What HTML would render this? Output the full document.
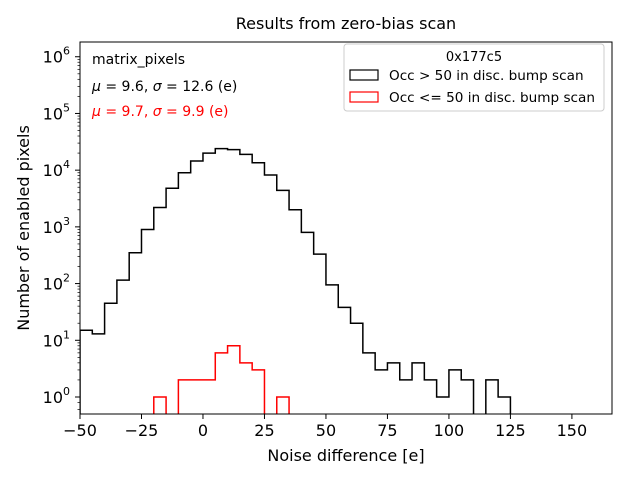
<!DOCTYPE html>
<html><head><meta charset="utf-8"><style>
body{margin:0;background:#fff;font-family:"Liberation Sans","DejaVu Sans",sans-serif}
svg text{font-family:"DejaVu Sans","Liberation Sans",sans-serif}
</style></head><body>
<svg id="c" width="640" height="480" xmlns="http://www.w3.org/2000/svg">
<rect width="640" height="480" fill="#fff"/>
<text x="346" y="29" font-size="16" text-anchor="middle">Results from zero-bias scan</text>
<g id="g"></g>
</svg>
<script>
const binEdgesStart = -50;
const binWidth = 5;
const blackCounts = [15,13,45,115,350,900,2200,4800,9000,14500,20000,24000,23000,19000,13500,8200,4400,2000,800,330,95,38,20,6,3,4,2,4,2,1,3,2,0,2,1];
const redStart = -20;
const redCounts = [1,0,2,2,2,6,8,4,3,0,1];
const xTicks = [-50,-25,0,25,50,75,100,125,150];
const yTickExps = [0,1,2,3,4,5,6];

const L=80,R=612,T=42,B=414;
const xMin=-50,xMax=166.3;
const yLogMin=-0.3,yLogMax=6.26;
const xs=v=>L+(v-xMin)/(xMax-xMin)*(R-L);
const ys=v=>B-(Math.log10(v)-yLogMin)/(yLogMax-yLogMin)*(B-T);
const NS="http://www.w3.org/2000/svg";
const g=document.getElementById('g');
function mk(t,a){const e=document.createElementNS(NS,t);for(const k in a)e.setAttribute(k,a[k]);g.appendChild(e);return e;}

function stepPath(start,counts){
  let d='';const yb=B+2;
  let x0=xs(start);d+=`M${x0},${yb}`;
  counts.forEach((c,i)=>{
    const xa=xs(start+i*binWidth),xb=xs(start+(i+1)*binWidth);
    const y=c>0?ys(c):yb;
    d+=` L${xa},${y} L${xb},${y}`;
  });
  d+=` L${xs(start+counts.length*binWidth)},${yb}`;
  return d;
}
const cp=mk('clipPath',{id:'cl'});
const cr=document.createElementNS(NS,'rect');cr.setAttribute('x',L);cr.setAttribute('y',T);cr.setAttribute('width',R-L);cr.setAttribute('height',B-T);cp.appendChild(cr);
let p=mk('path',{d:stepPath(binEdgesStart,blackCounts),fill:'none',stroke:'#000','stroke-width':1.5,'clip-path':'url(#cl)'});


p=mk('path',{d:stepPath(redStart,redCounts),fill:'none',stroke:'red','stroke-width':1.5,'clip-path':'url(#cl)'});



let fr=mk('rect',{x:L,y:T,width:R-L,height:B-T,fill:'none',stroke:'#000','stroke-width':1});



xTicks.forEach(v=>{
  const x=xs(v);
  mk('line',{x1:x,x2:x,y1:B,y2:B+5,stroke:'#000'});
  const t=mk('text',{x:x,y:B+22,'font-size':16,'text-anchor':'middle'});
  t.textContent=(v<0?'\u2212'+(-v):v);
  
  
});
yTickExps.forEach(e=>{
  const y=ys(Math.pow(10,e));
  mk('line',{x1:L-5,x2:L,y1:y,y2:y,stroke:'#000'});
  for(let m=2;m<10;m++){const v=m*Math.pow(10,e);const yy=ys(v);if(yy>T&&yy<B)mk('line',{x1:L-2.5,x2:L,y1:yy,y2:yy,stroke:'#000','stroke-width':0.7});}
  const t=mk('text',{x:L-10,y:y+6,'font-size':16,'text-anchor':'end'});
  t.innerHTML='10<tspan dy="-8" font-size="11">'+e+'</tspan>';
  
  
});
{const yy=ys(0.6);mk('line',{x1:L-2.5,x2:L,y1:yy,y2:yy,stroke:'#000','stroke-width':0.7});
 const y2=ys(0.8);mk('line',{x1:L-2.5,x2:L,y1:y2,y2:y2,stroke:'#000','stroke-width':0.7});}

let t=mk('text',{x:346,y:461,'font-size':16,'text-anchor':'middle'});t.textContent='Noise difference [e]';


t=mk('text',{x:29,y:228,'font-size':16,'text-anchor':'middle',transform:'rotate(-90 29 228)'});t.textContent='Number of enabled pixels';



t=mk('text',{x:92,y:64,'font-size':14});t.textContent='matrix_pixels';


t=mk('text',{x:92,y:91,'font-size':14});t.innerHTML='<tspan font-style="italic">μ</tspan> = 9.6, <tspan font-style="italic">σ</tspan> = 12.6 (e)';


t=mk('text',{x:92,y:116,'font-size':14,fill:'red'});t.innerHTML='<tspan font-style="italic">μ</tspan> = 9.7, <tspan font-style="italic">σ</tspan> = 9.9 (e)';



let lg=mk('rect',{x:344,y:44,width:260,height:67,rx:3,fill:'#fff','fill-opacity':0.8,stroke:'#ccc'});


t=mk('text',{x:474,y:61,'font-size':13,'text-anchor':'middle'});t.textContent='0x177c5';


mk('rect',{x:350,y:70,width:28,height:10,fill:'none',stroke:'#000','stroke-width':1.2});
t=mk('text',{x:389,y:80,'font-size':13.6});t.textContent='Occ > 50 in disc. bump scan';


mk('rect',{x:350,y:92,width:28,height:10,fill:'none',stroke:'red','stroke-width':1.2});
t=mk('text',{x:389,y:102,'font-size':13.6});t.textContent='Occ <= 50 in disc. bump scan';


</script>
</body></html>
